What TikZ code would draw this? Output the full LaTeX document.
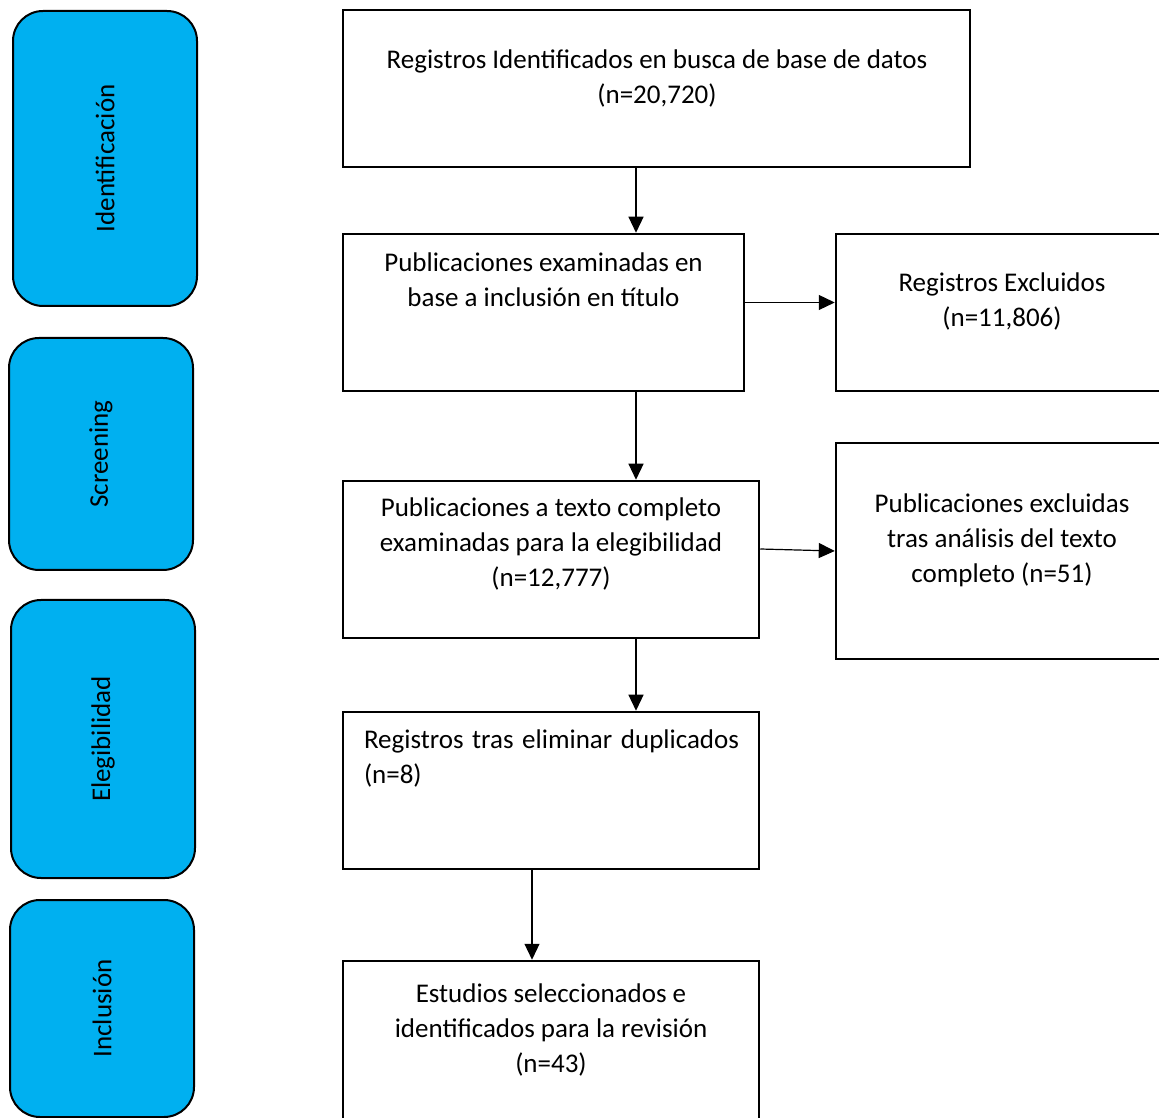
\documentclass[tikz,border=0pt]{standalone}
\usepackage{fontspec}
\setmainfont{Carlito}
\usetikzlibrary{arrows.meta}
\definecolor{faseazul}{HTML}{00B0F0}
\tikzset{
  fase/.style={draw=black, fill=faseazul, line width=2pt, rounded corners=30pt, rotate=90, inner sep=0pt, font=\fontsize{27}{30}\selectfont},
  caja/.style={draw=black, line width=2.5pt, inner sep=0pt},
  texto/.style={inner sep=0pt, align=center, font=\fontsize{27}{35}\selectfont},
  flecha/.style={line width=1.2pt, -{Triangle[length=16pt,width=15pt]}}
}
\begin{document}
\begin{tikzpicture}[x=1pt,y=1pt]
\useasboundingbox (0,0) rectangle (1159,1117);
% fases a la izquierda
\node[fase, minimum width=295, minimum height=184] (identif) at (105,958.5) {Identificación};
\node[fase, minimum width=232, minimum height=184] (screen) at (101,663) {Screening};
\node[fase, minimum width=278, minimum height=184] (elegib) at (103,378) {Elegibilidad};
\node[fase, minimum width=217, minimum height=184] (inclus) at (102,108.5) {Inclusión};
% cajas
\node[caja, minimum width=627, minimum height=157] (regist) at (656.5,1028.5) {};
\node[caja, minimum width=401, minimum height=157] (pubtit) at (543.5,804.5) {};
\node[caja, minimum width=344, minimum height=157] (exclA) at (1008,804.5) {};
\node[caja, minimum width=416, minimum height=157] (pubtxt) at (551,557.5) {};
\node[caja, minimum width=344, minimum height=216] (exclB) at (1008,566) {};
\node[caja, minimum width=416, minimum height=157] (duplic) at (551,326.5) {};
\node[caja, minimum width=416, minimum height=169] (estud) at (551,71.5) {};
% textos
\node[texto] (registTxt) at (657,1038.5) {Registros Identificados en busca de base de datos\\(n=20,720)};
\node[texto] (pubtitTxt) at (543.5,837) {Publicaciones examinadas en\\base a inclusión en título};
\node[texto] (exclATxt) at (1002,815) {Registros Excluidos\\(n=11,806)};
\node[texto] (pubtxtTxt) at (551,573) {Publicaciones a texto completo\\examinadas para la elegibilidad\\(n=12,777)};
\node[texto] (exclBTxt) at (1002,577) {Publicaciones excluidas\\tras análisis del texto\\completo (n=51)};
\node[texto, align=justify, text width=375] (duplicTxt) at (551.5,358.5) {\hyphenpenalty=10000\relax Registros tras eliminar duplicados (n=8)};
\node[texto] (estudTxt) at (551,87) {Estudios seleccionados e\\identificados para la revisión\\(n=43)};
% flechas
\coordinate (ejeA) at (636,0);
\coordinate (ejeB) at (532,0);
\draw[flecha] (regist.south -| ejeA) -- (pubtit.north -| ejeA);
\draw[flecha] (pubtit.south -| ejeA) -- (pubtxt.north -| ejeA);
\draw[flecha] (pubtxt.south -| ejeA) -- (duplic.north -| ejeA);
\draw[flecha] (duplic.south -| ejeB) -- (estud.north -| ejeB);
\draw[flecha] ([yshift=10pt]pubtit.east) -- ([yshift=10pt]exclA.west);
\draw[flecha] ([yshift=10.5pt]pubtxt.east) -- (exclB.west);
\end{tikzpicture}
\end{document}
